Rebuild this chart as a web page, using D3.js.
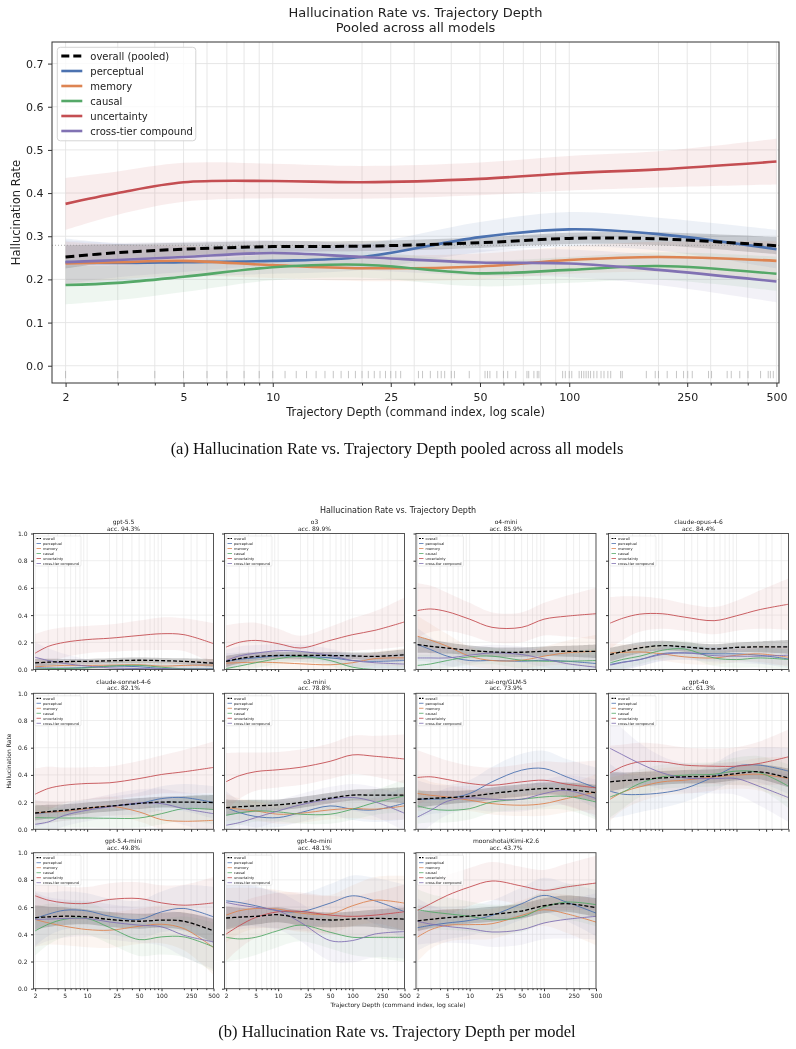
<!DOCTYPE html>
<html>
<head>
<meta charset="utf-8">
<script src="https://cdn.jsdelivr.net/npm/d3@7"></script>
<style>
  body { margin: 0; background: #fff; }
  svg { will-change: transform; -webkit-font-smoothing: antialiased; }
  text { font-family: "DejaVu Sans", sans-serif; fill: #222; }
  .caption { font-family: "Liberation Serif", "Times New Roman", serif; fill: #111; }
</style>
</head>
<body>
<div id="chart"></div>
<script>
var knots = [2, 3, 5, 10, 20, 50, 100, 200, 500];
var majorTicks = [2, 5, 10, 25, 50, 100, 250, 500];
var minorTicks = [3, 4, 6, 7, 8, 9, 20, 30, 40, 60, 70, 80, 90, 200, 300, 400];

// ---- pooled chart (a)
var pooledOverall     = [0.252, 0.262, 0.270, 0.276, 0.277, 0.285, 0.295, 0.294, 0.278];
var pooledPerceptual  = [0.240, 0.238, 0.240, 0.243, 0.252, 0.298, 0.316, 0.305, 0.270];
var pooledMemory      = [0.237, 0.240, 0.243, 0.233, 0.226, 0.230, 0.245, 0.252, 0.243];
var pooledCausal      = [0.187, 0.192, 0.206, 0.228, 0.234, 0.214, 0.222, 0.231, 0.213];
var pooledUncertainty = [0.375, 0.400, 0.425, 0.428, 0.425, 0.433, 0.446, 0.455, 0.473];
var pooledCrossTier   = [0.240, 0.245, 0.252, 0.261, 0.252, 0.239, 0.237, 0.222, 0.195];
// half widths of the shaded bands
var pooledOverallBand     = [0.027, 0.020, 0.015, 0.013, 0.012, 0.012, 0.013, 0.015, 0.020];
var pooledPerceptualBand  = [0.055, 0.045, 0.035, 0.030, 0.030, 0.035, 0.040, 0.038, 0.045];
var pooledMemoryBand      = [0.050, 0.040, 0.035, 0.030, 0.030, 0.030, 0.032, 0.035, 0.045];
var pooledCausalBand      = [0.045, 0.040, 0.035, 0.030, 0.030, 0.030, 0.030, 0.032, 0.040];
var pooledUncertaintyBand = [0.060, 0.050, 0.045, 0.040, 0.038, 0.038, 0.040, 0.042, 0.053];
var pooledCrossTierBand   = [0.050, 0.040, 0.035, 0.030, 0.030, 0.030, 0.032, 0.035, 0.048];
var pooledMean = 0.279;
var rugDepths = [2, 3, 4, 5, 6, 7, 8, 9, 10, 11, 12, 13, 14, 15, 16, 17, 18, 19, 20, 21, 22, 23, 24, 25, 26,
  27, 31, 32, 34, 36, 37, 38, 40, 41, 46, 52, 53, 54, 57, 60, 62, 66, 72, 73, 76, 78, 79,
  95, 97, 100, 102, 108, 110, 112, 114, 116, 118, 121, 124, 128, 131, 135, 138, 149, 151,
  182, 195, 200, 214, 230, 243, 251, 260, 295, 302, 341, 352, 376, 401, 442, 469, 477, 488];

// ---- per-model chart (b)
var models = ["gpt-5.5", "o3", "o4-mini", "claude-opus-4-6", "claude-sonnet-4-6", "o3-mini",
  "zai-org/GLM-5", "gpt-4o", "gpt-5.4-mini", "gpt-4o-mini", "moonshotai/Kimi-K2.6"];
var accuracy = ["94.3%", "89.9%", "85.9%", "84.4%", "82.1%", "78.8%", "73.9%", "61.3%", "49.8%", "48.1%", "43.7%"];

var overallMid = [
  [0.048, 0.054, 0.058, 0.060, 0.064, 0.068, 0.065, 0.060, 0.046],
  [0.060, 0.080, 0.096, 0.103, 0.103, 0.103, 0.100, 0.096, 0.108],
  [0.183, 0.170, 0.158, 0.141, 0.129, 0.127, 0.134, 0.134, 0.134],
  [0.110, 0.134, 0.159, 0.176, 0.166, 0.151, 0.163, 0.166, 0.166],
  [0.120, 0.130, 0.140, 0.157, 0.170, 0.190, 0.200, 0.200, 0.197],
  [0.160, 0.166, 0.172, 0.180, 0.197, 0.229, 0.251, 0.251, 0.251],
  [0.221, 0.227, 0.233, 0.243, 0.263, 0.287, 0.300, 0.295, 0.268],
  [0.349, 0.358, 0.366, 0.378, 0.386, 0.391, 0.410, 0.423, 0.378],
  [0.523, 0.528, 0.533, 0.528, 0.509, 0.496, 0.504, 0.496, 0.425],
  [0.520, 0.526, 0.532, 0.544, 0.520, 0.505, 0.512, 0.517, 0.512],
  [0.498, 0.510, 0.522, 0.534, 0.547, 0.571, 0.610, 0.625, 0.596]
];
var perceptualMid = [
  [0.012, 0.011, 0.010, 0.015, 0.025, 0.020, 0.008, 0.004, 0.005],
  [0.060, 0.075, 0.086, 0.100, 0.096, 0.086, 0.066, 0.060, 0.066],
  [0.183, 0.146, 0.098, 0.066, 0.066, 0.061, 0.068, 0.061, 0.044],
  [0.037, 0.055, 0.073, 0.117, 0.122, 0.115, 0.115, 0.105, 0.078],
  [0.115, 0.124, 0.133, 0.152, 0.170, 0.190, 0.226, 0.233, 0.197],
  [0.160, 0.123, 0.094, 0.086, 0.123, 0.172, 0.148, 0.143, 0.192],
  [0.221, 0.222, 0.226, 0.263, 0.349, 0.435, 0.447, 0.386, 0.305],
  [0.280, 0.258, 0.256, 0.268, 0.300, 0.386, 0.464, 0.472, 0.428],
  [0.516, 0.548, 0.577, 0.572, 0.533, 0.509, 0.565, 0.590, 0.528],
  [0.646, 0.634, 0.610, 0.573, 0.566, 0.629, 0.683, 0.646, 0.566],
  [0.449, 0.466, 0.483, 0.502, 0.539, 0.625, 0.686, 0.637, 0.556]
];
var memoryMid = [
  [0.020, 0.025, 0.030, 0.030, 0.032, 0.035, 0.025, 0.030, 0.033],
  [0.047, 0.050, 0.054, 0.050, 0.042, 0.035, 0.050, 0.080, 0.086],
  [0.244, 0.215, 0.171, 0.098, 0.066, 0.068, 0.098, 0.122, 0.134],
  [0.122, 0.126, 0.129, 0.115, 0.093, 0.085, 0.105, 0.115, 0.090],
  [0.120, 0.126, 0.133, 0.152, 0.170, 0.128, 0.071, 0.059, 0.066],
  [0.160, 0.148, 0.135, 0.111, 0.118, 0.143, 0.153, 0.148, 0.172],
  [0.263, 0.250, 0.238, 0.214, 0.189, 0.177, 0.189, 0.226, 0.275],
  [0.221, 0.275, 0.312, 0.349, 0.361, 0.386, 0.398, 0.405, 0.373],
  [0.509, 0.484, 0.459, 0.435, 0.430, 0.459, 0.474, 0.442, 0.302],
  [0.541, 0.573, 0.590, 0.585, 0.556, 0.549, 0.610, 0.651, 0.629],
  [0.380, 0.434, 0.466, 0.471, 0.478, 0.539, 0.581, 0.551, 0.490]
];
var causalMid = [
  [0.003, 0.006, 0.008, 0.012, 0.025, 0.030, 0.017, 0.005, 0.002],
  [0.007, 0.025, 0.050, 0.080, 0.096, 0.066, 0.017, 0.000, 0.000],
  [0.030, 0.041, 0.066, 0.093, 0.098, 0.068, 0.061, 0.061, 0.066],
  [0.049, 0.075, 0.098, 0.141, 0.151, 0.085, 0.073, 0.085, 0.073],
  [0.086, 0.084, 0.083, 0.083, 0.081, 0.083, 0.115, 0.152, 0.145],
  [0.103, 0.120, 0.135, 0.128, 0.111, 0.111, 0.148, 0.197, 0.246],
  [0.172, 0.150, 0.140, 0.152, 0.201, 0.221, 0.238, 0.243, 0.201],
  [0.238, 0.275, 0.337, 0.386, 0.398, 0.405, 0.428, 0.418, 0.317],
  [0.425, 0.474, 0.511, 0.516, 0.450, 0.361, 0.381, 0.381, 0.307],
  [0.378, 0.366, 0.378, 0.427, 0.468, 0.415, 0.378, 0.378, 0.378],
  [0.581, 0.565, 0.551, 0.532, 0.507, 0.527, 0.600, 0.637, 0.618]
];
var uncertaintyMid = [
  [0.120, 0.170, 0.200, 0.220, 0.230, 0.250, 0.263, 0.256, 0.190],
  [0.165, 0.200, 0.214, 0.190, 0.158, 0.214, 0.256, 0.288, 0.350],
  [0.434, 0.445, 0.425, 0.370, 0.310, 0.310, 0.370, 0.392, 0.410],
  [0.341, 0.378, 0.407, 0.410, 0.385, 0.359, 0.395, 0.439, 0.480],
  [0.258, 0.300, 0.324, 0.337, 0.342, 0.373, 0.403, 0.423, 0.455],
  [0.350, 0.394, 0.424, 0.438, 0.456, 0.500, 0.547, 0.537, 0.517],
  [0.381, 0.386, 0.366, 0.337, 0.324, 0.349, 0.361, 0.332, 0.305],
  [0.415, 0.464, 0.496, 0.496, 0.472, 0.464, 0.464, 0.484, 0.533],
  [0.683, 0.651, 0.631, 0.627, 0.656, 0.663, 0.631, 0.614, 0.631],
  [0.402, 0.463, 0.524, 0.566, 0.568, 0.541, 0.532, 0.541, 0.566],
  [0.576, 0.625, 0.686, 0.748, 0.792, 0.755, 0.723, 0.748, 0.777]
];
var crossTierMid = [
  [0.090, 0.066, 0.044, 0.025, 0.012, 0.007, 0.005, 0.003, 0.002],
  [0.066, 0.100, 0.120, 0.138, 0.133, 0.103, 0.066, 0.050, 0.040],
  [0.085, 0.085, 0.085, 0.105, 0.122, 0.110, 0.078, 0.044, 0.017],
  [0.032, 0.052, 0.073, 0.110, 0.122, 0.102, 0.098, 0.098, 0.105],
  [0.037, 0.054, 0.103, 0.140, 0.165, 0.194, 0.189, 0.152, 0.115],
  [0.030, 0.049, 0.086, 0.135, 0.180, 0.222, 0.234, 0.202, 0.118],
  [0.091, 0.140, 0.206, 0.231, 0.221, 0.221, 0.263, 0.287, 0.226],
  [0.595, 0.545, 0.484, 0.415, 0.378, 0.373, 0.373, 0.317, 0.233],
  [0.509, 0.512, 0.516, 0.516, 0.491, 0.467, 0.455, 0.393, 0.344],
  [0.634, 0.615, 0.598, 0.573, 0.488, 0.354, 0.354, 0.402, 0.420],
  [0.495, 0.475, 0.458, 0.441, 0.417, 0.434, 0.483, 0.510, 0.532]
];

var overallBand = [
  [0.030, 0.025, 0.020, 0.018, 0.018, 0.020, 0.020, 0.022, 0.030],
  [0.040, 0.035, 0.030, 0.025, 0.025, 0.025, 0.025, 0.030, 0.040],
  [0.060, 0.050, 0.040, 0.035, 0.035, 0.035, 0.035, 0.040, 0.050],
  [0.050, 0.045, 0.040, 0.035, 0.035, 0.035, 0.035, 0.040, 0.050],
  [0.055, 0.050, 0.045, 0.040, 0.040, 0.040, 0.040, 0.045, 0.055],
  [0.060, 0.050, 0.045, 0.040, 0.040, 0.040, 0.040, 0.045, 0.060],
  [0.065, 0.055, 0.050, 0.045, 0.045, 0.045, 0.045, 0.050, 0.060],
  [0.070, 0.060, 0.055, 0.050, 0.050, 0.050, 0.050, 0.055, 0.070],
  [0.090, 0.075, 0.065, 0.055, 0.055, 0.055, 0.055, 0.065, 0.090],
  [0.085, 0.070, 0.060, 0.055, 0.055, 0.055, 0.055, 0.065, 0.085],
  [0.075, 0.065, 0.060, 0.055, 0.055, 0.055, 0.055, 0.060, 0.070]
];
var perceptualBand = [
  [0.04, 0.035, 0.03, 0.03, 0.03, 0.03, 0.03, 0.035, 0.045],
  [0.06, 0.05, 0.045, 0.04, 0.04, 0.04, 0.045, 0.05, 0.06],
  [0.12, 0.09, 0.07, 0.06, 0.06, 0.06, 0.06, 0.07, 0.09],
  [0.07, 0.06, 0.05, 0.05, 0.05, 0.05, 0.05, 0.06, 0.07],
  [0.10, 0.08, 0.07, 0.07, 0.07, 0.08, 0.09, 0.10, 0.12],
  [0.12, 0.09, 0.08, 0.07, 0.07, 0.07, 0.08, 0.09, 0.12],
  [0.14, 0.11, 0.10, 0.10, 0.11, 0.12, 0.13, 0.13, 0.15],
  [0.20, 0.16, 0.13, 0.11, 0.10, 0.10, 0.11, 0.13, 0.17],
  [0.20, 0.16, 0.14, 0.13, 0.13, 0.14, 0.15, 0.17, 0.22],
  [0.20, 0.17, 0.15, 0.13, 0.13, 0.14, 0.15, 0.17, 0.20],
  [0.17, 0.14, 0.12, 0.11, 0.11, 0.12, 0.13, 0.14, 0.17]
];
var memoryBand = [
  [0.04, 0.035, 0.03, 0.03, 0.03, 0.03, 0.03, 0.035, 0.045],
  [0.05, 0.045, 0.04, 0.04, 0.04, 0.04, 0.045, 0.05, 0.07],
  [0.15, 0.12, 0.09, 0.07, 0.06, 0.06, 0.07, 0.09, 0.12],
  [0.07, 0.06, 0.05, 0.05, 0.05, 0.05, 0.05, 0.06, 0.07],
  [0.09, 0.08, 0.07, 0.07, 0.07, 0.07, 0.07, 0.08, 0.10],
  [0.10, 0.08, 0.07, 0.07, 0.07, 0.07, 0.07, 0.08, 0.10],
  [0.13, 0.10, 0.09, 0.08, 0.08, 0.08, 0.09, 0.10, 0.13],
  [0.16, 0.13, 0.11, 0.10, 0.10, 0.10, 0.10, 0.12, 0.16],
  [0.20, 0.16, 0.14, 0.13, 0.13, 0.13, 0.14, 0.16, 0.20],
  [0.20, 0.17, 0.15, 0.14, 0.14, 0.14, 0.15, 0.17, 0.20],
  [0.18, 0.14, 0.12, 0.11, 0.11, 0.11, 0.12, 0.14, 0.17]
];
var causalBand = [
  [0.04, 0.035, 0.03, 0.03, 0.03, 0.03, 0.03, 0.035, 0.045],
  [0.05, 0.045, 0.04, 0.04, 0.04, 0.04, 0.04, 0.05, 0.06],
  [0.08, 0.07, 0.06, 0.06, 0.06, 0.06, 0.06, 0.07, 0.09],
  [0.08, 0.07, 0.06, 0.06, 0.06, 0.06, 0.06, 0.07, 0.08],
  [0.10, 0.08, 0.07, 0.07, 0.07, 0.07, 0.08, 0.09, 0.11],
  [0.11, 0.09, 0.08, 0.07, 0.07, 0.07, 0.08, 0.09, 0.12],
  [0.13, 0.10, 0.09, 0.08, 0.08, 0.08, 0.09, 0.10, 0.13],
  [0.15, 0.12, 0.10, 0.09, 0.09, 0.09, 0.10, 0.12, 0.16],
  [0.18, 0.15, 0.13, 0.12, 0.12, 0.12, 0.13, 0.15, 0.18],
  [0.18, 0.15, 0.13, 0.12, 0.12, 0.12, 0.13, 0.15, 0.18],
  [0.15, 0.13, 0.12, 0.11, 0.11, 0.11, 0.12, 0.13, 0.16]
];
var uncertaintyBand = [
  [0.14, 0.12, 0.11, 0.10, 0.10, 0.11, 0.12, 0.12, 0.15],
  [0.16, 0.14, 0.13, 0.11, 0.09, 0.10, 0.12, 0.14, 0.18],
  [0.20, 0.17, 0.14, 0.12, 0.11, 0.11, 0.12, 0.15, 0.19],
  [0.19, 0.16, 0.13, 0.11, 0.10, 0.10, 0.11, 0.14, 0.19],
  [0.19, 0.16, 0.13, 0.12, 0.12, 0.13, 0.14, 0.16, 0.19],
  [0.21, 0.17, 0.14, 0.13, 0.13, 0.13, 0.14, 0.15, 0.18],
  [0.20, 0.16, 0.14, 0.13, 0.13, 0.13, 0.14, 0.16, 0.20],
  [0.20, 0.16, 0.14, 0.13, 0.13, 0.13, 0.14, 0.16, 0.20],
  [0.15, 0.13, 0.12, 0.12, 0.12, 0.12, 0.13, 0.15, 0.19],
  [0.20, 0.17, 0.15, 0.14, 0.14, 0.14, 0.15, 0.17, 0.20],
  [0.20, 0.17, 0.15, 0.14, 0.14, 0.14, 0.15, 0.17, 0.20]
];
var crossTierBand = [
  [0.11, 0.09, 0.07, 0.05, 0.04, 0.04, 0.04, 0.045, 0.06],
  [0.08, 0.07, 0.06, 0.05, 0.05, 0.05, 0.05, 0.06, 0.08],
  [0.10, 0.08, 0.07, 0.06, 0.06, 0.06, 0.06, 0.07, 0.09],
  [0.07, 0.06, 0.05, 0.05, 0.05, 0.05, 0.05, 0.06, 0.07],
  [0.09, 0.08, 0.08, 0.08, 0.09, 0.10, 0.11, 0.12, 0.14],
  [0.10, 0.09, 0.08, 0.08, 0.08, 0.09, 0.10, 0.11, 0.13],
  [0.14, 0.11, 0.10, 0.09, 0.09, 0.09, 0.10, 0.11, 0.14],
  [0.25, 0.19, 0.15, 0.12, 0.11, 0.11, 0.12, 0.14, 0.18],
  [0.20, 0.16, 0.14, 0.13, 0.13, 0.13, 0.14, 0.16, 0.20],
  [0.22, 0.18, 0.15, 0.14, 0.14, 0.15, 0.16, 0.17, 0.20],
  [0.17, 0.14, 0.12, 0.11, 0.11, 0.11, 0.12, 0.14, 0.17]
];

// style
var catColors = ["#4C72B0", "#DD8452", "#55A868", "#C44E52", "#8172B3"];
var catLabels = ["perceptual", "memory", "causal", "uncertainty", "cross-tier compound"];
var smooth = d3.curveCatmullRom.alpha(0.5);

var svg = d3.select("#chart").append("svg")
  .attr("width", 796)
  .attr("height", 1049);

function pts(vals, band) {
  return knots.map(function(k, i) { return {d: k, v: vals[i], h: band[i]}; });
}

// draws grid, bands and lines of one axes box
function drawPanel(g, x, y, series, opt) {
  var xr = x.range(), yr = y.range();
  var id = "clip" + opt.id;
  g.append("clipPath").attr("id", id).append("rect")
    .attr("x", xr[0]).attr("y", yr[1]).attr("width", xr[1] - xr[0]).attr("height", yr[0] - yr[1]);

  // grid
  var grid = g.append("g").attr("clip-path", "url(#" + id + ")");
  grid.selectAll(".vg").data(majorTicks.concat(minorTicks)).enter().append("line")
    .attr("x1", d => x(d)).attr("x2", d => x(d)).attr("y1", yr[0]).attr("y2", yr[1])
    .attr("stroke", "#e4e4e4").attr("stroke-width", opt.gridW);
  grid.selectAll(".hg").data(opt.yTicks).enter().append("line")
    .attr("x1", xr[0]).attr("x2", xr[1]).attr("y1", d => y(d)).attr("y2", d => y(d))
    .attr("stroke", "#e4e4e4").attr("stroke-width", opt.gridW);

  var area = d3.area().x(d => x(d.d)).y0(d => y(d.v - d.h)).y1(d => y(d.v + d.h)).curve(smooth);
  var line = d3.line().x(d => x(d.d)).y(d => y(d.v)).curve(smooth);

  var body = g.append("g").attr("clip-path", "url(#" + id + ")");
  series.forEach(function(s) {
    body.append("path").datum(s.p).attr("d", area)
      .attr("fill", s.color).attr("fill-opacity", s.overall ? opt.grayAlpha : opt.bandAlpha);
  });
  if (opt.after) opt.after(body);
  series.filter(s => !s.overall).forEach(function(s) {
    body.append("path").datum(s.p).attr("d", line)
      .attr("fill", "none").attr("stroke", s.color).attr("stroke-width", opt.lineW);
  });
  series.filter(s => s.overall).forEach(function(s) {
    body.append("path").datum(s.p).attr("d", line)
      .attr("fill", "none").attr("stroke", "#000").attr("stroke-width", opt.dashW)
      .attr("stroke-dasharray", opt.dash);
  });
}

function styleAxis(a, size) {
  a.select(".domain").remove();
  a.selectAll("line").attr("stroke", "#333");
  a.selectAll("text").style("font-size", size + "px").attr("fill", "#222");
}

function drawLegend(g, x0, y0, labels, opt) {
  g.append("rect").attr("x", x0).attr("y", y0).attr("width", opt.w).attr("height", opt.h)
    .attr("rx", opt.r).attr("fill", "#fff").attr("fill-opacity", 0.8)
    .attr("stroke", "#d0d0d0").attr("stroke-width", opt.borderW);
  labels.forEach(function(lab, i) {
    var cy = y0 + opt.first + i * opt.step;
    g.append("line").attr("x1", x0 + opt.lx0).attr("x2", x0 + opt.lx1).attr("y1", cy).attr("y2", cy)
      .attr("stroke", i == 0 ? "#000" : catColors[i - 1])
      .attr("stroke-width", i == 0 ? opt.dashW : opt.lineW)
      .attr("stroke-dasharray", i == 0 ? opt.dash : null);
    g.append("text").attr("x", x0 + opt.tx).attr("y", cy + opt.font * 0.36)
      .style("font-size", opt.font + "px").text(lab);
  });
}

// ================= (a) pooled chart =================
var xA = d3.scaleLog().domain([1.8, 510]).range([52, 779]);
var yA = d3.scaleLinear().domain([-0.04, 0.75]).range([383, 42]);
var gA = svg.append("g");

var pooledSeries = [
  {p: pts(pooledOverall, pooledOverallBand), color: "#000", overall: true},
  {p: pts(pooledPerceptual, pooledPerceptualBand), color: catColors[0]},
  {p: pts(pooledMemory, pooledMemoryBand), color: catColors[1]},
  {p: pts(pooledCausal, pooledCausalBand), color: catColors[2]},
  {p: pts(pooledUncertainty, pooledUncertaintyBand), color: catColors[3]},
  {p: pts(pooledCrossTier, pooledCrossTierBand), color: catColors[4]}
];

drawPanel(gA, xA, yA, pooledSeries, {
  id: "A", gridW: 0.9, yTicks: [0, 0.1, 0.2, 0.3, 0.4, 0.5, 0.6, 0.7],
  bandAlpha: 0.1, grayAlpha: 0.17, lineW: 2.6, dashW: 3, dash: "9,4.5",
  after: function(body) {
    body.append("line").attr("x1", 52).attr("x2", 779)
      .attr("y1", yA(pooledMean)).attr("y2", yA(pooledMean))
      .attr("stroke", "#999").attr("stroke-width", 0.8).attr("stroke-dasharray", "1,2");
  }
});

// rug of observed depths
gA.selectAll(".rug").data(rugDepths).enter().append("line")
  .attr("x1", d => xA(d)).attr("x2", d => xA(d))
  .attr("y1", yA(-0.012)).attr("y2", yA(-0.029))
  .attr("stroke", "#999").attr("stroke-opacity", 0.7).attr("stroke-width", 0.8);

gA.append("rect").attr("x", 52).attr("y", 42).attr("width", 727).attr("height", 341)
  .attr("fill", "none").attr("stroke", "#333").attr("stroke-width", 1);

var axA = gA.append("g").attr("transform", "translate(0,383)")
  .call(d3.axisBottom(xA).tickValues(majorTicks).tickFormat(d3.format("d")).tickSize(4).tickPadding(6));
styleAxis(axA, 11);
var axAm = gA.append("g").attr("transform", "translate(0,383)")
  .call(d3.axisBottom(xA).tickValues(minorTicks).tickFormat("").tickSize(2.5));
styleAxis(axAm, 11);
var ayA = gA.append("g").attr("transform", "translate(52,0)")
  .call(d3.axisLeft(yA).tickValues([0, 0.1, 0.2, 0.3, 0.4, 0.5, 0.6, 0.7]).tickFormat(d3.format(".1f")).tickSize(4).tickPadding(4.5));
styleAxis(ayA, 11);

gA.append("text").attr("x", 415.5).attr("y", 16.5).attr("text-anchor", "middle")
  .style("font-size", "13px").text("Hallucination Rate vs. Trajectory Depth");
gA.append("text").attr("x", 415.5).attr("y", 31.5).attr("text-anchor", "middle")
  .style("font-size", "13px").text("Pooled across all models");
gA.append("text").attr("x", 415.5).attr("y", 416).attr("text-anchor", "middle")
  .style("font-size", "11.5px").text("Trajectory Depth (command index, log scale)");
gA.append("text").attr("transform", "translate(19.5,212.5) rotate(-90)").attr("text-anchor", "middle")
  .style("font-size", "11.5px").text("Hallucination Rate");

drawLegend(gA, 57.3, 47.3, ["overall (pooled)"].concat(catLabels), {
  w: 138.5, h: 93.5, r: 3, borderW: 0.9, first: 8.7, step: 15, lx0: 4, lx1: 25, tx: 33,
  font: 10, lineW: 2.6, dashW: 3, dash: "8,4"
});

svg.append("text").attr("class", "caption").attr("x", 397).attr("y", 453.5)
  .attr("text-anchor", "middle").style("font-size", "16.5px")
  .text("(a) Hallucination Rate vs. Trajectory Depth pooled across all models");

// ================= (b) per-model grid =================
var colLeft = [33.5, 224.5, 416, 608.5];
var rowTop = [533.5, 693.3, 852.7];
var panelW = 180, panelH = 136;

svg.append("text").attr("x", 398).attr("y", 513).attr("text-anchor", "middle")
  .style("font-size", "8px").text("Hallucination Rate vs. Trajectory Depth");

models.forEach(function(name, i) {
  var col = i % 4, row = Math.floor(i / 4);
  var x0 = colLeft[col], y0 = rowTop[row];
  var x = d3.scaleLog().domain([1.9, 500]).range([x0, x0 + panelW]);
  var y = d3.scaleLinear().domain([0, 1]).range([y0 + panelH, y0]);
  var g = svg.append("g");

  var series = [
    {p: pts(overallMid[i], overallBand[i]), color: "#000", overall: true},
    {p: pts(perceptualMid[i], perceptualBand[i]), color: catColors[0]},
    {p: pts(memoryMid[i], memoryBand[i]), color: catColors[1]},
    {p: pts(causalMid[i], causalBand[i]), color: catColors[2]},
    {p: pts(uncertaintyMid[i], uncertaintyBand[i]), color: catColors[3]},
    {p: pts(crossTierMid[i], crossTierBand[i]), color: catColors[4]}
  ];
  drawPanel(g, x, y, series, {
    id: "P" + i, gridW: 0.6, yTicks: [0, 0.2, 0.4, 0.6, 0.8, 1.0],
    bandAlpha: 0.08, grayAlpha: 0.2, lineW: 0.9, dashW: 1.3, dash: "4,2"
  });

  g.append("rect").attr("x", x0).attr("y", y0).attr("width", panelW).attr("height", panelH)
    .attr("fill", "none").attr("stroke", "#444").attr("stroke-width", 0.9);

  var ax = g.append("g").attr("transform", "translate(0," + (y0 + panelH) + ")")
    .call(d3.axisBottom(x).tickValues(majorTicks).tickSize(2.5).tickPadding(3)
      .tickFormat(row == 2 ? d3.format("d") : ""));
  styleAxis(ax, 6);
  var axm = g.append("g").attr("transform", "translate(0," + (y0 + panelH) + ")")
    .call(d3.axisBottom(x).tickValues(minorTicks).tickSize(1.5).tickFormat(""));
  styleAxis(axm, 6);
  var ay = g.append("g").attr("transform", "translate(" + x0 + ",0)")
    .call(d3.axisLeft(y).tickValues([0, 0.2, 0.4, 0.6, 0.8, 1.0]).tickSize(2.5).tickPadding(3.5)
      .tickFormat(col == 0 ? d3.format(".1f") : ""));
  styleAxis(ay, 6);

  var cx = x0 + panelW / 2;
  g.append("text").attr("x", cx).attr("y", y0 - 9.4).attr("text-anchor", "middle")
    .style("font-size", "6px").text(name);
  g.append("text").attr("x", cx).attr("y", y0 - 2.9).attr("text-anchor", "middle")
    .style("font-size", "6px").text("acc. " + accuracy[i]);

  drawLegend(g, x0 + 1.5, y0 + 2.5, ["overall"].concat(catLabels), {
    w: 46, h: 30, r: 1, borderW: 0.4, first: 2.5, step: 5, lx0: 1.5, lx1: 6, tx: 8,
    font: 3.5, lineW: 0.8, dashW: 1.2, dash: "2,1"
  });
});

svg.append("text").attr("transform", "translate(10.5,761) rotate(-90)").attr("text-anchor", "middle")
  .style("font-size", "6px").text("Hallucination Rate");
svg.append("text").attr("x", 398).attr("y", 1007).attr("text-anchor", "middle")
  .style("font-size", "6px").text("Trajectory Depth (command index, log scale)");

svg.append("text").attr("class", "caption").attr("x", 397).attr("y", 1037)
  .attr("text-anchor", "middle").style("font-size", "16.5px")
  .text("(b) Hallucination Rate vs. Trajectory Depth per model");
</script>
</body>
</html>
